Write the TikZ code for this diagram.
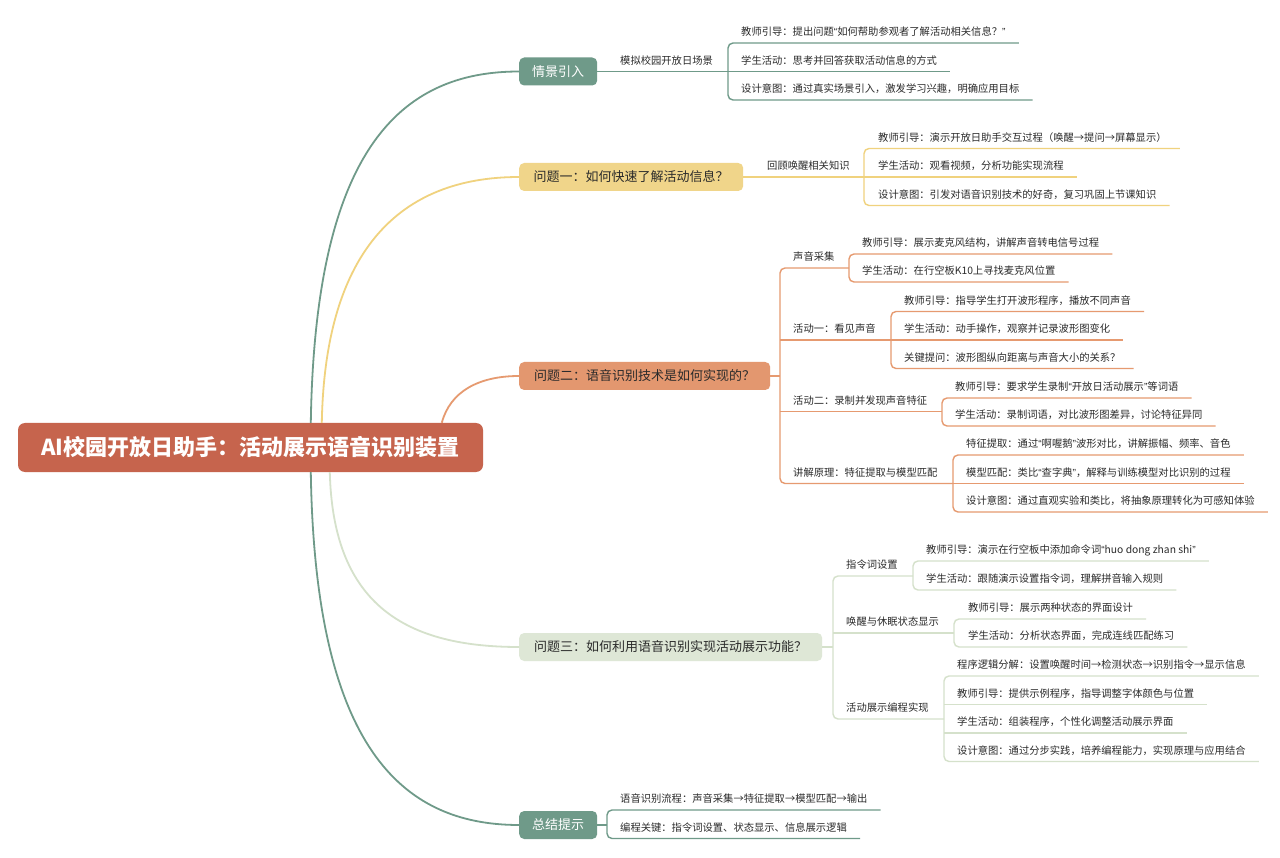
\documentclass[tikz,border=0pt]{standalone}
\usepackage{fontspec}
\setmainfont{Noto Sans CJK SC}
\newfontfamily\qf{Liberation Sans}
\newcommand\oq{{\qf “}}
\newcommand\cq{{\qf ”}}
\usetikzlibrary{calc}
\definecolor{cRoot}{HTML}{C6644D}
\definecolor{cTeal}{HTML}{6F9A89}
\definecolor{cYel}{HTML}{F0D58A}
\definecolor{cYelL}{HTML}{F0D27E}
\definecolor{cOra}{HTML}{E3976F}
\definecolor{cOraL}{HTML}{E69A70}
\definecolor{cLg}{HTML}{DEE7D6}
\definecolor{cLgL}{HTML}{D5E1CB}
\definecolor{txt}{HTML}{2B2B2B}
\tikzset{
  leaftxt/.style={inner sep=0pt, anchor=west, font=\fontsize{10.3}{12}\selectfont, text=txt},
  ln/.style={line width=1.4pt, rounded corners=5pt},
  mainln/.style={line width=1.8pt},
  brbox/.style={rounded corners=5pt, minimum height=28pt, inner sep=0pt, font=\fontsize{13}{15}\selectfont, anchor=west},
}
% leaf: name, bracket x, text x, text y, text
\newcommand\lf[5]{%
  \node[leaftxt] (#1) at (#3,#4) {#5};
  \coordinate (#1-s) at (#2,#4+11);
  \coordinate (#1-e) at ($(#1.east)+(13,11)$);
}
% sub topic: name, bracket x, text x, text y, text, sub-bracket x
\newcommand\sbt[6]{%
  \node[leaftxt] (#1) at (#3,#4) {#5};
  \coordinate (#1-s) at (#2,#4+11);
  \coordinate (#1-e) at (#6,#4+11);
}
\begin{document}
\begin{tikzpicture}[x=1pt,y=-1pt]
\useasboundingbox[fill=white] (0,0) rectangle (1280,858);

% root
\node[rounded corners=7pt, fill=cRoot, minimum width=465pt, minimum height=49pt, inner sep=0pt,
      text=white, font=\fontsize{22}{26}\selectfont\bfseries] (root) at (250.5,447.5)
      {AI校园开放日助手：活动展示语音识别装置};

% branch boxes
\node[brbox, fill=cTeal, text=white, minimum width=78pt] (b1) at (519,71.5) {情景引入};
\node[brbox, fill=cYel, text=txt, minimum width=224pt] (b2) at (519,177) {问题一：如何快速了解活动信息？};
\node[brbox, fill=cOra, text=txt, minimum width=251pt] (b3) at (519,376) {问题二：语音识别技术是如何实现的？};
\node[brbox, fill=cLg, text=txt, minimum width=303pt] (b4) at (519,647) {问题三：如何利用语音识别实现活动展示功能？};
\node[brbox, fill=cTeal, text=white, minimum width=78pt] (b5) at (519,825) {总结提示};

% main curves
\draw[mainln, cTeal] ([xshift=293pt]root.north west) .. controls (315,150) and (400,71.5) .. (b1.west);
\draw[mainln, cYelL] ([xshift=304pt]root.north west) .. controls (325,250) and (400,177) .. (b2.west);
\draw[mainln, cOraL] ([xshift=424pt]root.north west) .. controls (450,392) and (478,376) .. (b3.west);
\draw[mainln, cLgL] ([xshift=312pt]root.south west) .. controls (333,600) and (400,647) .. (b4.west);
\draw[mainln, cTeal] ([xshift=293pt]root.south west) .. controls (315,745) and (400,825) .. (b5.west);

% ---------- branch 1
\node[leaftxt] (s1) at (620,60.5) {模拟校园开放日场景};
\coordinate (s1-e) at (728,71.5);
\draw[ln, cTeal] (b1.east) -- (s1-e);
\lf{l11}{728}{741}{32}{教师引导：提出问题\oq 如何帮助参观者了解活动相关信息？\cq}
\lf{l12}{728}{741}{60.5}{学生活动：思考并回答获取活动信息的方式}
\lf{l13}{728}{741}{89}{设计意图：通过真实场景引入，激发学习兴趣，明确应用目标}
\draw[ln, cTeal] (l11-e) -- (l11-s) -- (l13-s) -- (l13-e);
\draw[ln, cTeal] (l12-s) -- (l12-e);

% ---------- branch 2
\node[leaftxt] (s2) at (767,166) {回顾唤醒相关知识};
\coordinate (s2-e) at (864,177);
\draw[ln, cYelL] (b2.east) -- (s2-e);
\lf{l21}{864}{878}{137.5}{教师引导：演示开放日助手交互过程（唤醒→提问→屏幕显示）}
\lf{l22}{864}{878}{166}{学生活动：观看视频，分析功能实现流程}
\lf{l23}{864}{878}{194.5}{设计意图：引发对语音识别技术的好奇，复习巩固上节课知识}
\draw[ln, cYelL] (l21-e) -- (l21-s) -- (l23-s) -- (l23-e);
\draw[ln, cYelL] (l22-s) -- (l22-e);

% ---------- branch 3
\coordinate (b3j) at (780,376);
\draw[ln, cOraL] (b3.east) -- (b3j);
\sbt{s31}{780}{793}{257}{声音采集}{849}
\sbt{s32}{780}{793}{329}{活动一：看见声音}{891}
\sbt{s33}{780}{793}{400.5}{活动二：录制并发现声音特征}{942}
\sbt{s34}{780}{793}{472.5}{讲解原理：特征提取与模型匹配}{953}
\draw[ln, cOraL] (s31-e) -- (s31-s) -- (s34-s) -- (s34-e);
\draw[ln, cOraL] (s32-s) -- (s32-e);
\draw[ln, cOraL] (s33-s) -- (s33-e);

\lf{l311}{849}{862}{243}{教师引导：展示麦克风结构，讲解声音转电信号过程}
\lf{l312}{849}{862}{271}{学生活动：在行空板K10上寻找麦克风位置}
\draw[ln, cOraL] (l311-e) -- (l311-s) -- (l312-s) -- (l312-e);

\lf{l321}{891}{904}{300.5}{教师引导：指导学生打开波形程序，播放不同声音}
\lf{l322}{891}{904}{329}{学生活动：动手操作，观察并记录波形图变化}
\lf{l323}{891}{904}{357.5}{关键提问：波形图纵向距离与声音大小的关系？}
\draw[ln, cOraL] (l321-e) -- (l321-s) -- (l323-s) -- (l323-e);
\draw[ln, cOraL] (l322-s) -- (l322-e);

\lf{l331}{942}{955}{387}{教师引导：要求学生录制\oq 开放日活动展示\cq 等词语}
\lf{l332}{942}{955}{415}{学生活动：录制词语，对比波形图差异，讨论特征异同}
\draw[ln, cOraL] (l331-e) -- (l331-s) -- (l332-s) -- (l332-e);

\lf{l341}{953}{966}{444}{特征提取：通过\oq 啊喔鹅\cq 波形对比，讲解振幅、频率、音色}
\lf{l342}{953}{966}{472.5}{模型匹配：类比\oq 查字典\cq ，解释与训练模型对比识别的过程}
\lf{l343}{953}{966}{501}{设计意图：通过直观实验和类比，将抽象原理转化为可感知体验}
\draw[ln, cOraL] (l341-e) -- (l341-s) -- (l343-s) -- (l343-e);
\draw[ln, cOraL] (l342-s) -- (l342-e);

% ---------- branch 4
\coordinate (b4j) at (833,647);
\draw[ln, cLgL] (b4.east) -- (b4j);
\sbt{s41}{833}{846}{565}{指令词设置}{913}
\sbt{s42}{833}{846}{622}{唤醒与休眠状态显示}{954}
\sbt{s43}{833}{846}{708}{活动展示编程实现}{944}
\draw[ln, cLgL] (s41-e) -- (s41-s) -- (s43-s) -- (s43-e);
\draw[ln, cLgL] (s42-s) -- (s42-e);

\lf{l411}{913}{926}{550}{教师引导：演示在行空板中添加命令词\oq huo dong zhan shi\cq}
\lf{l412}{913}{926}{579}{学生活动：跟随演示设置指令词，理解拼音输入规则}
\draw[ln, cLgL] (l411-e) -- (l411-s) -- (l412-s) -- (l412-e);

\lf{l421}{954}{968}{608}{教师引导：展示两种状态的界面设计}
\lf{l422}{954}{968}{636}{学生活动：分析状态界面，完成连线匹配练习}
\draw[ln, cLgL] (l421-e) -- (l421-s) -- (l422-s) -- (l422-e);

\lf{l431}{944}{957}{665}{程序逻辑分解：设置唤醒时间→检测状态→识别指令→显示信息}
\lf{l432}{944}{957}{693.5}{教师引导：提供示例程序，指导调整字体颜色与位置}
\lf{l433}{944}{957}{722}{学生活动：组装程序，个性化调整活动展示界面}
\lf{l434}{944}{957}{750.5}{设计意图：通过分步实践，培养编程能力，实现原理与应用结合}
\draw[ln, cLgL] (l431-e) -- (l431-s) -- (l434-s) -- (l434-e);
\draw[ln, cLgL] (l432-s) -- (l432-e);
\draw[ln, cLgL] (l433-s) -- (l433-e);

% ---------- branch 5
\coordinate (b5j) at (607,825);
\draw[ln, cTeal] (b5.east) -- (b5j);
\lf{l51}{607}{620}{799}{语音识别流程：声音采集→特征提取→模型匹配→输出}
\lf{l52}{607}{620}{827.5}{编程关键：指令词设置、状态显示、信息展示逻辑}
\draw[ln, cTeal] (l51-e) -- (l51-s) -- (l52-s) -- (l52-e);
\end{tikzpicture}
\end{document}
